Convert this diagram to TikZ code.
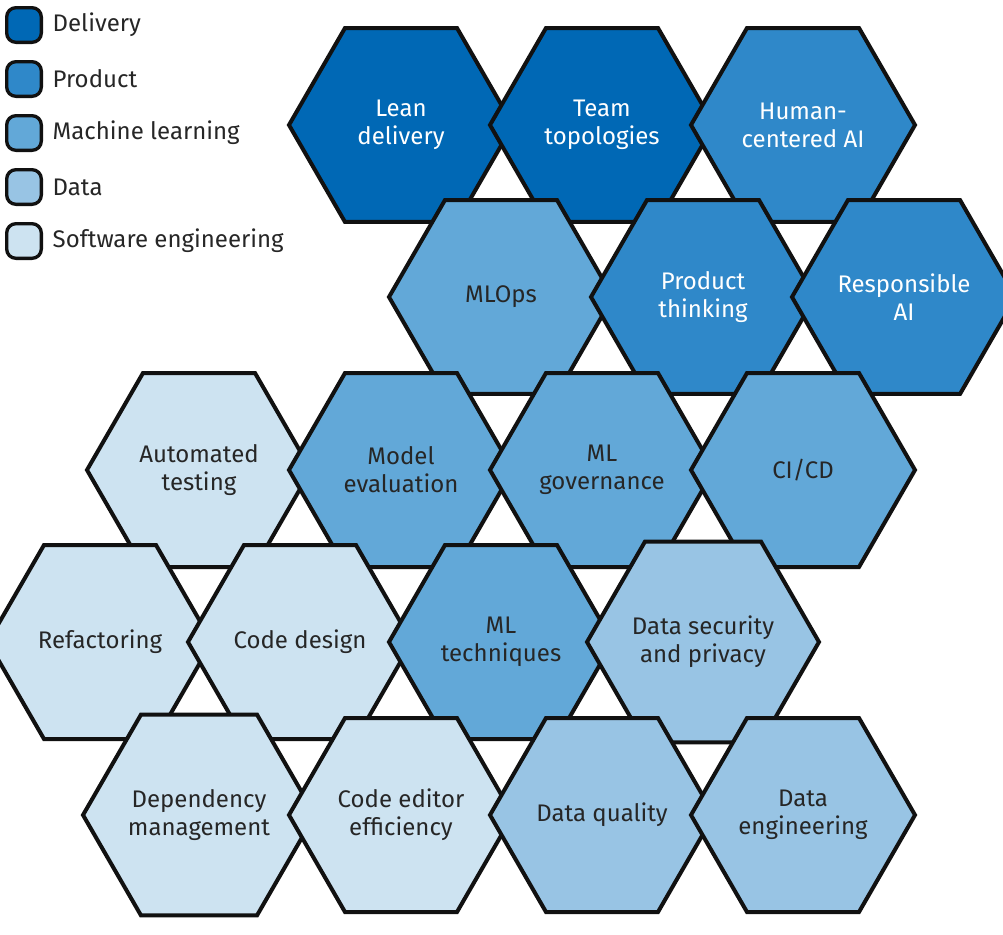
\documentclass[tikz,border=0pt]{standalone}
\usepackage{fontspec}
\setmainfont{Fira Sans}
\usetikzlibrary{shapes.geometric}
\definecolor{cdel}{HTML}{0068B5}
\definecolor{cpro}{HTML}{2F88C9}
\definecolor{cml}{HTML}{62A8D8}
\definecolor{cdat}{HTML}{98C4E4}
\definecolor{cse}{HTML}{CDE3F1}
\definecolor{cline}{HTML}{111111}
\tikzset{
 hex/.style={regular polygon, regular polygon sides=6, minimum size=168pt, inner sep=0pt,
   draw=cline, line width=3pt, align=center, font=\fontsize{18}{21}\selectfont},
 hdel/.style={hex, fill=cdel, text=white},
 hpro/.style={hex, fill=cpro, text=white},
 hml/.style={hex, fill=cml, text=black!85},
 hdat/.style={hex, fill=cdat, text=black!85},
 hse/.style={hex, fill=cse, text=black!85},
 leg/.style={draw=cline, line width=2.5pt, rounded corners=7pt, minimum size=26pt, inner sep=0pt},
 legt/.style={anchor=west, font=\fontsize{18}{21}\selectfont, text=black!85}
}
\begin{document}
\begin{tikzpicture}[x=0.75pt,y=-0.75pt]
\useasboundingbox (0,0) rectangle (1003,935);
\node[leg,fill=cdel] (l1) at (24,25) {}; \node[legt] (t1) at (48,25) {Delivery};
\node[leg,fill=cpro] (l2) at (24,79) {}; \node[legt] (t2) at (48,79) {Product};
\node[leg,fill=cml] (l3) at (24,133) {}; \node[legt] (t3) at (48,133) {Machine learning};
\node[leg,fill=cdat] (l4) at (24,187) {}; \node[legt] (t4) at (48,187) {Data};
\node[leg,fill=cse] (l5) at (24,241) {}; \node[legt] (t5) at (48,241) {Software engineering};
% row 1
\node[hdel] (a1) at (401,125) {Lean\\delivery};
\node[hdel] (a2) at (602,125) {Team\\topologies};
\node[hpro] (a3) at (803,125) {Human-\\centered AI};
% row 2
\node[hml] (b1) at (501,297) {MLOps};
\node[hpro] (b2) at (703,297) {Product\\thinking};
\node[hpro] (b3) at (904,297) {Responsible\\AI};
% row 3
\node[hse] (c1) at (199,470) {Automated\\testing};
\node[hml] (c2) at (401,470) {Model\\evaluation};
\node[hml] (c3) at (602,470) {ML\\governance};
\node[hml] (c4) at (803,470) {CI/CD};
% row 4
\node[hse] (d1) at (100,642) {Refactoring};
\node[hse] (d2) at (300,642) {Code design};
\node[hml] (d3) at (501,642) {ML\\techniques};
\node[hdat] (d4) at (703,642) {Data security\\and privacy};
% row 5
\node[hse] (e1) at (199,815) {Dependency\\management};
\node[hse] (e2) at (401,815) {Code editor\\efficiency};
\node[hdat] (e3) at (602,815) {Data quality};
\node[hdat] (e4) at (803,815) {Data\\engineering};
\end{tikzpicture}
\end{document}
